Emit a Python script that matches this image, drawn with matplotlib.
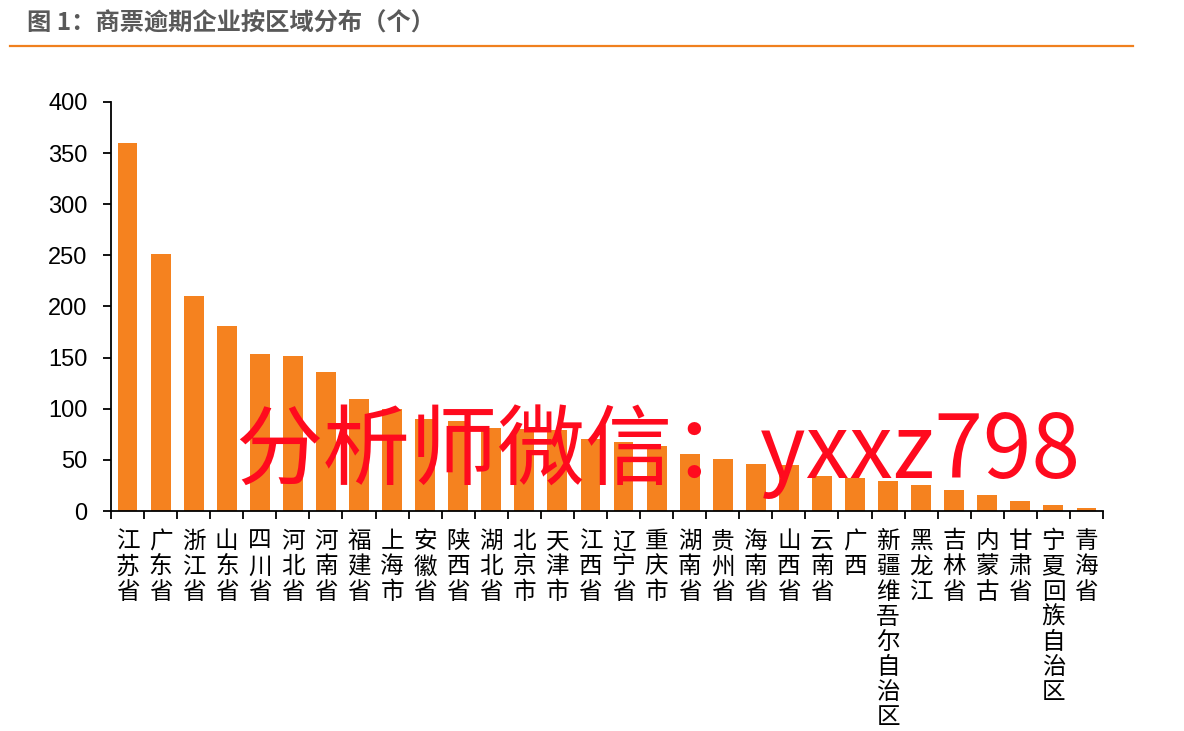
import matplotlib
matplotlib.use("Agg")
import matplotlib.pyplot as plt
from matplotlib.lines import Line2D

plt.rcParams['font.family'] = ['Noto Sans CJK SC', 'DejaVu Sans']

regions = ["江苏省", "广东省", "浙江省", "山东省", "四川省", "河北省", "河南省", "福建省",
           "上海市", "安徽省", "陕西省", "湖北省", "北京市", "天津市", "江西省", "辽宁省",
           "重庆市", "湖南省", "贵州省", "海南省", "山西省", "云南省", "广西",
           "新疆维吾尔自治区", "黑龙江", "吉林省", "内蒙古", "甘肃省", "宁夏回族自治区", "青海省"]
counts = [360, 251, 210, 181, 154, 152, 136, 110, 100, 90, 88, 81, 80, 79, 70, 67,
          64, 56, 51, 46, 45, 34, 32, 29, 25, 21, 16, 10, 6, 3]
yticks = [0, 50, 100, 150, 200, 250, 300, 350, 400]

title = "图 1：商票逾期企业按区域分布（个）"
watermark = "分析师微信：yxxz798"

W, H = 1184, 731
fig = plt.figure(figsize=(W / 100, H / 100), dpi=100)
ax = fig.add_axes([111 / W, 1 - 511 / H, (1103 - 111) / W, (511 - 102) / H])

x = list(range(len(regions)))
ax.bar(x, counts, width=0.6, color="#F5821F", zorder=2)
ax.set_xlim(-0.5, len(regions) - 0.5)
ax.set_ylim(0, 400)
ax.set_yticks(yticks)
ax.set_yticklabels([str(v) for v in yticks], family=['Liberation Sans'], fontsize=17)
ax.tick_params(axis='y', direction='out', length=6, width=1.3, pad=11)

ax.set_xticks([i + 0.5 for i in range(-1, len(regions))])
ax.set_xticklabels([])
ax.tick_params(axis='x', direction='out', length=6, width=1.3)
for i, name in enumerate(regions):
    ax.text(i, -0.047, "\n".join(name), transform=ax.get_xaxis_transform(),
            ha='center', va='top', fontsize=17, linespacing=1.12, color="#000000")

for s in ['top', 'right']:
    ax.spines[s].set_visible(False)
for s in ['left', 'bottom']:
    ax.spines[s].set_linewidth(1.3)
    ax.spines[s].set_color('#000000')

fig.text(27 / W, 1 - 24 / H, title, fontsize=17.5, fontweight='bold', color="#595959",
         ha='left', va='center')
fig.add_artist(Line2D([10 / W, 1133 / W], [1 - 46 / H, 1 - 46 / H],
                      color="#F0801E", linewidth=1.6, transform=fig.transFigure))

fig.text(658 / W, 1 - 452 / H, watermark, fontsize=63, color="#FF0A1E",
         ha='center', va='center', zorder=10)

fig.savefig("out.png", dpi=100)
